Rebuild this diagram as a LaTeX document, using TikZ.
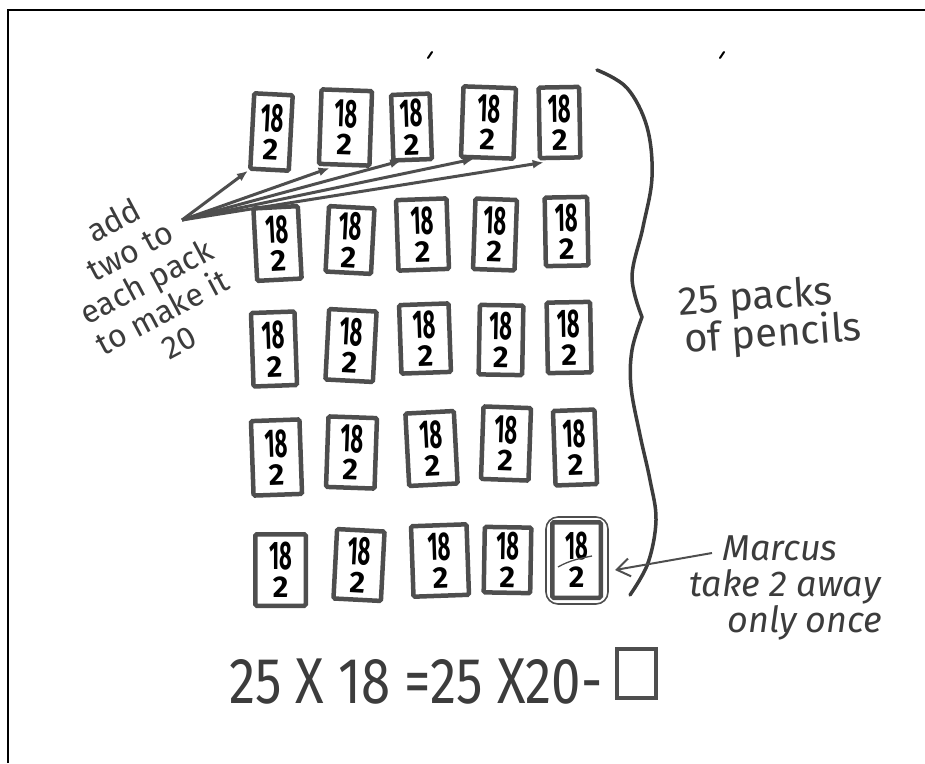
\documentclass[tikz,border=0pt]{standalone}
\usepackage{fontspec}
\setmainfont{Fira Sans}
\usetikzlibrary{arrows.meta,calc}
\definecolor{ink}{HTML}{3C3C3C}
\definecolor{pen}{HTML}{4E4E4E}
\tikzset{
  pack/.style={draw=pen,line width=4.5pt,fill=white,inner sep=0pt,rounded corners=1.5pt,
    align=center,text=black,font=\bfseries\fontsize{30}{28}\selectfont},
  hand/.style={text=ink,inner sep=0pt,font=\fontsize{32}{34.5}\selectfont},
  handb/.style={text=ink,inner sep=0pt,font=\fontsize{40}{40}\selectfont},
  handi/.style={text=ink,inner sep=0pt,font=\itshape\fontsize{36}{36}\selectfont},
  fan/.style={draw=pen,line width=3pt,-{Latex[length=11pt,width=9pt]}},
  pointer/.style={draw=pen,line width=2pt,-{Straight Barb[length=13pt,width=18pt]}},
}
\newcommand\packbox[6]{%
  \node[pack,minimum width=#4pt,minimum height=#5pt,rotate=#6] (#1) at (#2,#3)
    {\scalebox{0.73}[1.33]{18}\\2};
}
\begin{document}
\begin{tikzpicture}[x=1pt,y=-1pt]
\useasboundingbox (0,0) rectangle (925,763);
% frame
\draw[line width=1.6pt] (8,763) -- (8,10) -- (925,10);
% stray marks
\draw[line width=2pt,line cap=round] (428,58) -- (432,52);
\draw[line width=2pt,line cap=round] (720,58) -- (724,52);

% packs
\packbox{r1c1}{271.5}{132}{38.5}{75.5}{-3}
\packbox{r1c2}{345.5}{127.5}{50.5}{74.5}{-2}
\packbox{r1c3}{411.5}{127}{38.5}{65.5}{2}
\packbox{r1c4}{488.5}{122.5}{52.5}{70.5}{-2}
\packbox{r1c5}{559.5}{122.5}{40.5}{70.5}{1}

\packbox{r2c1}{277.5}{243.5}{44.5}{72.5}{3}
\packbox{r2c2}{350}{240}{45.5}{65.5}{-3}
\packbox{r2c3}{422.5}{234.5}{50.5}{70.5}{2}
\packbox{r2c4}{495}{234.5}{41.5}{70.5}{-2}
\packbox{r2c5}{566.5}{231.5}{42.5}{68.5}{1}

\packbox{r3c1}{274}{349}{43.5}{73.5}{2}
\packbox{r3c2}{351}{345.5}{47.5}{70.5}{-3}
\packbox{r3c3}{425}{338.5}{49.5}{68.5}{2}
\packbox{r3c4}{501}{340}{43.5}{69.5}{-1}
\packbox{r3c5}{569}{337.5}{43.5}{70.5}{1}

\packbox{r4c1}{276.5}{457.5}{48.5}{74.5}{2}
\packbox{r4c2}{351.5}{452.5}{48.5}{70.5}{-2}
\packbox{r4c3}{431.5}{448.5}{48.5}{72.5}{3}
\packbox{r4c4}{506}{443.5}{47.5}{72.5}{-2}
\packbox{r4c5}{575}{447.5}{41.5}{74.5}{2}

\packbox{r5c1}{280.5}{570}{50.5}{71.5}{0}
\packbox{r5c2}{359}{565}{47.5}{69.5}{-3}
\packbox{r5c3}{440}{560.5}{55.5}{70.5}{2}
\packbox{r5c4}{507.5}{560}{46.5}{65.5}{-1}
\packbox{r5c5}{576.5}{560}{48.5}{75.5}{0}
% extra ring and mark on the last pack
\draw[pen,line width=1.6pt,rounded corners=12pt] (546,517) rectangle (608,604);
\draw[pen,line width=1.3pt] (558,567) .. controls (570,560) and (582,558) .. (592,556);

% brace
\draw[ink,line width=3.5pt,line cap=round] plot[smooth,tension=0.6] coordinates
  {(597,70) (627,88) (647,127) (652,177) (643,227) (632,277) (642,317)};
\draw[ink,line width=3.5pt,line cap=round] plot[smooth,tension=0.6] coordinates
  {(642,317) (632,350) (631,387) (640,435) (650,480) (656,520) (648,563) (630,595)};

% brace label
\node[handb,rotate=4,align=center] (lab) at (757,318) {25 packs\\[-2pt]\hspace*{30pt}of pencils};

% add-two text
\node[hand,rotate=28,align=center] (addtext) at (146,281) {add\\two to\\each pack\\to make it\\20};

% fan of arrows
\coordinate (fanroot) at (182,220);
\draw[fan] (fanroot) -- (r1c1.south west);
\draw[fan] (fanroot) -- ([xshift=13pt,yshift=-2pt]r1c2.south west);
\draw[fan] (fanroot) -- ([xshift=10pt,yshift=2pt]r1c3.south west);
\draw[fan] (fanroot) -- ([xshift=15pt,yshift=0pt]r1c4.south west);
\draw[fan] (fanroot) -- ([xshift=6pt,yshift=-2pt]r1c5.south west);

% Marcus note
\node[handi,align=center] (marcus) at (785,588) {\hspace*{-10pt}Marcus\\take 2 away\\\hspace*{40pt}only once};
\coordinate (mtail) at (712,553);
\draw[pointer] (mtail) -- ([xshift=12pt,yshift=-10pt]r5c5.east);

% equation
\node[text=ink,inner sep=0pt,xscale=1.1,yscale=1.35,font=\fontsize{48}{48}\selectfont] (eq) at (416,682) {25 X 18 =25 X20-};
\node[draw=pen,line width=4pt,minimum width=39pt,minimum height=49pt,inner sep=0pt] (blank) at (636.5,673.5) {};
\end{tikzpicture}
\end{document}
